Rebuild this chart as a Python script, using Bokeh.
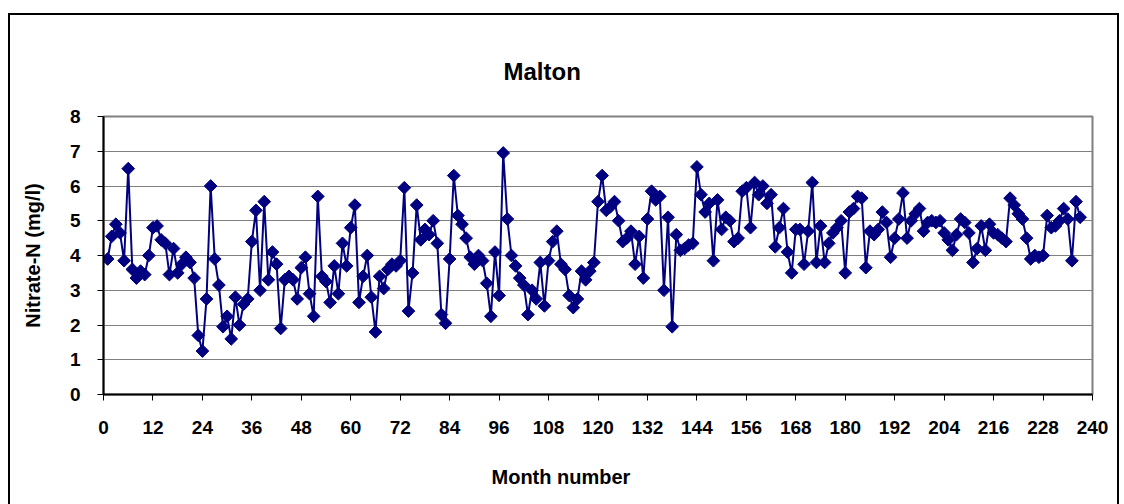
import numpy as np
from bokeh.plotting import figure
from bokeh.models import Range1d, FixedTicker, Title, ColumnDataSource
from bokeh.embed import file_html
from bokeh.resources import INLINE

# ---- data ----
months = list(range(1, 238))
nitrate = [
    3.9, 4.55, 4.9, 4.65, 3.85, 6.5, 3.6, 3.35, 3.55, 3.45,
    4.0, 4.8, 4.85, 4.45, 4.35, 3.45, 4.2, 3.5, 3.75, 3.95,
    3.8, 3.35, 1.7, 1.25, 2.75, 6.0, 3.9, 3.15, 1.95, 2.25,
    1.6, 2.8, 2.0, 2.6, 2.75, 4.4, 5.3, 3.0, 5.55, 3.3,
    4.1, 3.75, 1.9, 3.3, 3.4, 3.3, 2.75, 3.65, 3.95, 2.9,
    2.25, 5.7, 3.4, 3.25, 2.65, 3.7, 2.9, 4.35, 3.7, 4.8,
    5.45, 2.65, 3.4, 4.0, 2.8, 1.8, 3.4, 3.05, 3.6, 3.75,
    3.7, 3.85, 5.95, 2.4, 3.5, 5.45, 4.45, 4.75, 4.6, 5.0,
    4.35, 2.3, 2.05, 3.9, 6.3, 5.15, 4.9, 4.5, 3.95, 3.75,
    4.0, 3.85, 3.2, 2.25, 4.1, 2.85, 6.95, 5.05, 4.0, 3.7,
    3.35, 3.15, 2.3, 3.0, 2.75, 3.8, 2.55, 3.85, 4.4, 4.7,
    3.75, 3.6, 2.85, 2.5, 2.75, 3.55, 3.3, 3.55, 3.8, 5.55,
    6.3, 5.3, 5.4, 5.55, 5.0, 4.4, 4.5, 4.7, 3.75, 4.55,
    3.35, 5.05, 5.85, 5.6, 5.7, 3.0, 5.1, 1.95, 4.6, 4.15,
    4.2, 4.3, 4.35, 6.55, 5.75, 5.25, 5.5, 3.85, 5.6, 4.75,
    5.1, 5.0, 4.4, 4.5, 5.85, 5.95, 4.8, 6.1, 5.75, 6.0,
    5.5, 5.75, 4.25, 4.8, 5.35, 4.1, 3.5, 4.75, 4.75, 3.75,
    4.7, 6.1, 3.8, 4.85, 3.8, 4.35, 4.65, 4.8, 5.0, 3.5,
    5.25, 5.35, 5.7, 5.65, 3.65, 4.7, 4.6, 4.75, 5.25, 4.95,
    3.95, 4.5, 5.05, 5.8, 4.5, 5.0, 5.2, 5.35, 4.7, 4.95,
    5.0, 4.95, 5.0, 4.65, 4.45, 4.15, 4.6, 5.05, 4.95, 4.65,
    3.8, 4.2, 4.85, 4.15, 4.9, 4.65, 4.6, 4.5, 4.4, 5.65,
    5.45, 5.2, 5.05, 4.5, 3.9, 4.0, 3.95, 4.0, 5.15, 4.8,
    4.85, 5.0, 5.35, 5.05, 3.85, 5.55, 5.1,
]
x_ticks = list(range(0, 241, 12))
y_ticks = list(range(0, 9))

title_text = "Malton"
x_label = "Month number"
y_label = "Nitrate-N (mg/l)"

FONT = "Liberation Sans"
NAVY = "#000080"

src = ColumnDataSource(data=dict(month=months, value=nitrate))

p = figure(
    frame_width=989, frame_height=278,
    x_range=Range1d(0, 240), y_range=Range1d(0, 8),
    output_backend="svg", toolbar_location=None,
    min_border_left=93, min_border_right=25,
    min_border_top=101, min_border_bottom=115,
)
p.styles = {"border": "2px solid black", "margin-top": "13px", "margin-left": "8px"}

p.background_fill_color = "white"
p.border_fill_color = "white"
p.outline_line_color = "#808080"
p.outline_line_width = 2

# title
p.title.text = title_text
p.title.align = "left"
p.title.offset = 400
p.title.standoff = 63
p.title.text_font = FONT
p.title.text_font_size = "24px"
p.title.text_font_style = "bold"
p.title.text_color = "black"

# axes
for ax in (p.xaxis, p.yaxis):
    ax.axis_line_color = "black"
    ax.axis_line_width = 2
    ax.major_tick_line_color = "black"
    ax.major_tick_line_width = 1
    ax.major_tick_out = 6
    ax.major_tick_in = 0
    ax.minor_tick_out = 0
    ax.minor_tick_in = 0
    ax.major_label_text_font = FONT
    ax.major_label_text_font_size = "19px"
    ax.major_label_text_font_style = "bold"
    ax.major_label_text_color = "black"

p.xaxis.ticker = FixedTicker(ticks=x_ticks)
p.yaxis.ticker = FixedTicker(ticks=y_ticks)
p.xaxis.major_label_standoff = 20
p.yaxis.major_label_standoff = 17

p.yaxis.axis_label = y_label
p.yaxis.axis_label_text_font = FONT
p.yaxis.axis_label_text_font_size = "20px"
p.yaxis.axis_label_text_font_style = "bold"
p.yaxis.axis_label_text_color = "black"
p.yaxis.axis_label_standoff = 23

p.add_layout(Title(text=x_label, align="left", offset=388, standoff=54,
                   text_font=FONT, text_font_size="20px",
                   text_font_style="bold", text_color="black"), "below")

p.xgrid.visible = False
p.ygrid.ticker = FixedTicker(ticks=y_ticks)
p.ygrid.grid_line_color = "#808080"
p.ygrid.grid_line_width = 1

p.line("month", "value", source=src, line_color=NAVY, line_width=2)
p.scatter("month", "value", source=src, marker="square", angle=np.pi / 4,
          size=9, fill_color=NAVY, line_color=NAVY)

open("out.html", "w").write(file_html(p, INLINE))
